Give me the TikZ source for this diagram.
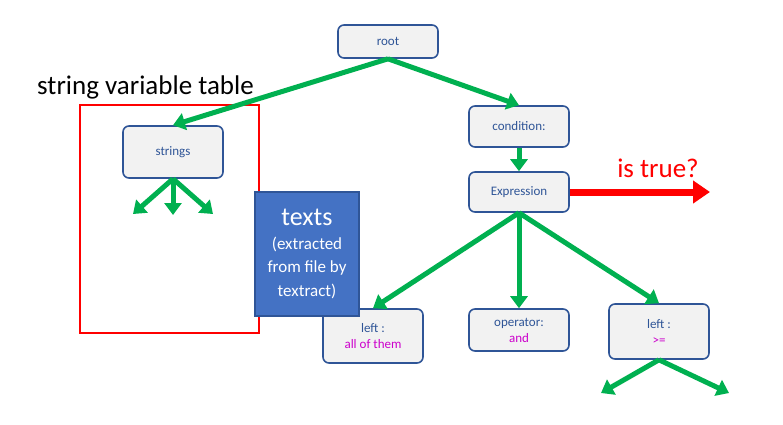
\documentclass[tikz,border=0pt]{standalone}
\usepackage{fontspec}
\setmainfont{Carlito}
\usepackage{tikz}
\usetikzlibrary{shapes, arrows.meta, positioning}
\definecolor{boxblue}{HTML}{2F5597}
\definecolor{boxfill}{HTML}{F2F2F2}
\definecolor{arrgreen}{HTML}{00B050}
\definecolor{txtpink}{HTML}{CC00CC}
\definecolor{textsblue}{HTML}{4472C4}

\begin{document}
\begin{tikzpicture}
  [
    x=1pt, y=-1pt,
    Box/.style={rectangle, rounded corners=6pt, draw=boxblue, fill=boxfill, line width=1.6pt,
      minimum width=100pt, text=boxblue, font=\fontsize{13}{16}\selectfont, align=center, inner sep=2pt},
    Green/.style={draw=arrgreen, line width=5pt, -{Triangle[length=12pt, width=17pt]}},
    Red/.style={draw=red, line width=7pt, -{Triangle[length=17pt, width=22pt]}}
  ]
  \useasboundingbox (0,0) rectangle (783,424);
  % Table frame
  \draw[red, line width=1.6pt] (80,105) rectangle (259,333);
  \node[anchor=base west, inner sep=0pt, font=\fontsize{27}{32}\selectfont] (title) at (37,94) {string variable table};
  % Nodes
  \node[Box, minimum height=33pt] (root) at (388,41.5) {root};
  \node[Box, minimum height=52pt] (strings) at (173,152) {strings};
  \node[Box, minimum height=41pt] (cond) at (519,126.5) {condition:};
  \node[Box, minimum height=40pt] (expr) at (519,192) {Expression};
  \node[Box, minimum height=54pt] (left1) at (373,336) {left :\\\textcolor{txtpink}{all of them}};
  \node[Box, minimum height=42pt] (oper) at (519,330) {operator:\\\textcolor{txtpink}{and}};
  \node[Box, minimum height=55pt] (left2) at (659,331.5) {left :\\\textcolor{txtpink}{>=}};
  \node[rectangle, draw=boxblue, fill=textsblue, line width=1.2pt, minimum width=104pt,
    minimum height=124pt, text=white, align=center, font=\fontsize{17}{23.5}\selectfont]
    (texts) at (307,254) {{\fontsize{26}{28}\selectfont texts}\\(extracted\\from file by\\textract)};
  \node[anchor=base, inner sep=0pt, text=red, font=\fontsize{27}{32}\selectfont] (istrue) at (658,177) {is true?};
  % Free ends
  \coordinate (s1) at (133,214);
  \coordinate (s2) at (173,215);
  \coordinate (s3) at (213,214);
  \coordinate (l1) at (601,393);
  \coordinate (l2) at (729,393);
  \coordinate (truend) at (710,192);
  % Lines
  \path [Green] (root.south) -- (strings.north);
  \path [Green] (root.south) -- (cond.north);
  \path [Green] (cond.south) -- (expr.north);
  \path [Green] (expr.south) -- (left1.north);
  \path [Green] (expr.south) -- (oper.north);
  \path [Green] (expr.south) -- (left2.north);
  \path [Green] (strings.south) -- (s1);
  \path [Green] (strings.south) -- (s2);
  \path [Green] (strings.south) -- (s3);
  \path [Green] (left2.south) -- (l1);
  \path [Green] (left2.south) -- (l2);
  \path [Red] (expr.east) -- (truend);
\end{tikzpicture}
\end{document}
